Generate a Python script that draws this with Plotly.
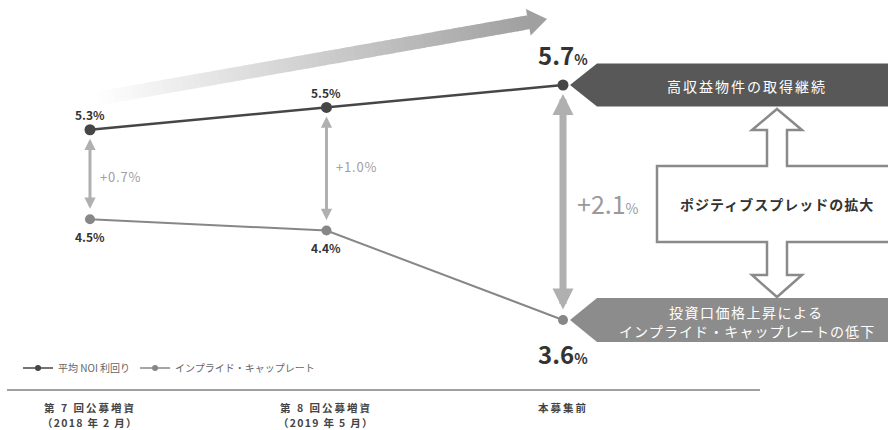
import math
import plotly.graph_objects as go

W, H = 888, 430
FONT = "Noto Sans CJK JP"

# ---- data -------------------------------------------------------------
period_names = ["第 7 回公募増資", "第 8 回公募増資", "本募集前"]
period_dates = ["（2018 年 2 月）", "（2019 年 5 月）", ""]
noi_yield = [5.3, 5.5, 5.7]          # 平均NOI利回り (%)
implied_cap = [4.5, 4.4, 3.6]        # インプライド・キャップレート (%)
spread_labels = ["+0.7", "+1.0", "+2.1"]
series_names = ["平均 NOI 利回り", "インプライド・キャップレート"]
top_banner_text = "高収益物件の取得継続"
mid_box_text = "ポジティブスプレッドの拡大"
bottom_banner_lines = ["投資口価格上昇による", "インプライド・キャップレートの低下"]

x_pos = list(range(len(period_names)))

# axis ranges (full-canvas plot area, axes hidden)
X_RANGE = [-0.3805, 3.3742]
Y_RANGE = [2.6170, 6.4596]

NOI_COLOR = "#464646"
CAP_COLOR = "#878787"
SPREAD_COLOR = "#b0b0b0"


def px(x):
    return x / W


def py(y):
    return 1 - y / H


def poly(points):
    return "M " + " L ".join(f"{px(x):.5f},{py(y):.5f}" for x, y in points) + " Z"


def spaced(text, spacing):
    return f"<span style='letter-spacing:{spacing}px'>{text}</span>"


def paper_text(text, x, y, size, color, weight="normal", spacing=0):
    return dict(text=spaced(text, spacing), x=px(x), y=py(y), xref="paper", yref="paper",
                xanchor="center", yanchor="middle", showarrow=False,
                font=dict(family=FONT, size=size, color=color, weight=weight))


fig = go.Figure()

# ---- series lines -----------------------------------------------------
fig.add_trace(go.Scatter(
    x=x_pos, y=noi_yield, mode="lines+markers", showlegend=False,
    line=dict(color=NOI_COLOR, width=2.6),
    marker=dict(color=NOI_COLOR, size=11),
    hoverinfo="skip",
))
fig.add_trace(go.Scatter(
    x=x_pos, y=implied_cap, mode="lines+markers", showlegend=False,
    line=dict(color=CAP_COLOR, width=2),
    marker=dict(color=CAP_COLOR, size=10),
    hoverinfo="skip",
))
# legend entries with small markers
fig.add_trace(go.Scatter(
    x=[None], y=[None], mode="lines+markers", name=series_names[0],
    line=dict(color=NOI_COLOR, width=1.5), marker=dict(color=NOI_COLOR, size=6),
))
fig.add_trace(go.Scatter(
    x=[None], y=[None], mode="lines+markers", name=series_names[1],
    line=dict(color=CAP_COLOR, width=1.5), marker=dict(color=CAP_COLOR, size=6),
))

# ---- big gradient trend arrow -----------------------------------------
tail, tip = (95, 99), (547, 19)
dx, dy = tip[0] - tail[0], tip[1] - tail[1]
L = math.hypot(dx, dy)
ux, uy = dx / L, dy / L
nx, ny = -uy, ux
head_len, shaft_hw, head_hw = 19, 7, 13.5
shaft_len = L - head_len
N = 70
shapes = []
for k in range(N):
    s0 = shaft_len * k / N
    s1 = min(shaft_len * (k + 1) / N + 0.8, shaft_len + 0.5)
    t = (k + 0.5) / N
    c = int(round(255 - (255 - 160) * t))
    p0 = (tail[0] + ux * s0, tail[1] + uy * s0)
    p1 = (tail[0] + ux * s1, tail[1] + uy * s1)
    pts = [
        (p0[0] + nx * shaft_hw, p0[1] + ny * shaft_hw),
        (p1[0] + nx * shaft_hw, p1[1] + ny * shaft_hw),
        (p1[0] - nx * shaft_hw, p1[1] - ny * shaft_hw),
        (p0[0] - nx * shaft_hw, p0[1] - ny * shaft_hw),
    ]
    shapes.append(dict(type="path", xref="paper", yref="paper", path=poly(pts),
                       fillcolor=f"rgb({c},{c},{c})", line=dict(width=0), layer="below"))
base = (tail[0] + ux * shaft_len, tail[1] + uy * shaft_len)
shapes.append(dict(type="path", xref="paper", yref="paper", layer="below",
                   path=poly([(base[0] + nx * head_hw, base[1] + ny * head_hw),
                              tip,
                              (base[0] - nx * head_hw, base[1] - ny * head_hw)]),
                   fillcolor="rgb(160,160,160)", line=dict(width=0)))

# ---- right-hand explanation panel -------------------------------------
shapes.append(dict(type="path", xref="paper", yref="paper",
                   path=poly([(570, 85), (597, 63.5), (895, 63.5), (895, 106.5), (597, 106.5)]),
                   fillcolor="#585858", line=dict(width=0)))
shapes.append(dict(type="path", xref="paper", yref="paper",
                   path=poly([(570, 320), (597, 298), (895, 298), (895, 342), (597, 342)]),
                   fillcolor="#8c8c8c", line=dict(width=0)))
shapes.append(dict(type="path", xref="paper", yref="paper",
                   path=poly([(777, 109), (802, 130), (787, 130), (787, 166), (895, 166),
                              (895, 242), (787, 242), (787, 275), (802, 275), (777, 297),
                              (752, 275), (767, 275), (767, 242), (657, 242), (657, 166),
                              (767, 166), (767, 130), (752, 130)]),
                   fillcolor="white", line=dict(color="#8a8a8a", width=2.5)))
# baseline under the chart
shapes.append(dict(type="line", xref="paper", yref="paper",
                   x0=px(7), x1=px(760), y0=py(390), y1=py(390),
                   line=dict(color="#a0a0a0", width=2)))

annotations = [
    paper_text(top_banner_text, 747, 86, 14, "white", spacing=2),
    paper_text(mid_box_text, 777, 204, 14, "#333333", "bold", spacing=1),
    paper_text(bottom_banner_lines[0], 746, 312, 14, "white", spacing=1.5),
    paper_text(bottom_banner_lines[1], 747, 331, 14, "white", spacing=1.1),
]

# ---- spread arrows and labels -----------------------------------------
last = len(x_pos) - 1
for i in x_pos:
    big = i == last
    annotations.append(dict(
        x=i, y=noi_yield[i], ax=i, ay=implied_cap[i],
        xref="x", yref="y", axref="x", ayref="y", text="",
        showarrow=True, arrowhead=2, arrowside="end+start",
        arrowwidth=7 if big else 3, arrowsize=0.6 if big else 0.75,
        arrowcolor=SPREAD_COLOR, standoff=9, startstandoff=9,
    ))
    mid = (noi_yield[i] + implied_cap[i]) / 2
    if big:
        txt = f"{spread_labels[i]}<span style='font-size:14px'>%</span>"
        annotations.append(dict(x=i, y=mid, xref="x", yref="y", text=txt,
                                xanchor="left", yanchor="middle", xshift=12, showarrow=False,
                                font=dict(family=FONT, size=25, color="#9a9a9a")))
    else:
        annotations.append(dict(x=i, y=mid, xref="x", yref="y",
                                text=spaced(spread_labels[i] + "%", 0.8),
                                xanchor="left", yanchor="middle", xshift=8,
                                yshift=-2 if i == 0 else 2, showarrow=False,
                                font=dict(family=FONT, size=13, color="#a0a0a0")))

# ---- value labels -----------------------------------------------------
for i in x_pos:
    big = i == last
    if big:
        for v, shift in ((noi_yield[i], 31), (implied_cap[i], -33)):
            annotations.append(dict(
                x=i, y=v, xref="x", yref="y", showarrow=False, yshift=shift,
                text=f"{v:.1f}<span style='font-size:14px'>%</span>",
                font=dict(family=FONT, size=24, color="#333333", weight=600)))
    else:
        for v, shift in ((noi_yield[i], 15), (implied_cap[i], -17)):
            annotations.append(dict(
                x=i, y=v, xref="x", yref="y", showarrow=False, yshift=shift,
                text=f"{v:.1f}%",
                font=dict(family=FONT, size=12, color="#333333", weight="bold")))

# ---- category labels --------------------------------------------------
for i, name, date in zip(x_pos, period_names, period_dates):
    for txt, y, sp in ((name, 407, 2.0), (date, 422, 1.3)):
        if txt:
            annotations.append(dict(
                x=i, y=py(y), xref="x", yref="paper", yanchor="middle", showarrow=False,
                text=spaced(txt, sp), borderpad=0,
                font=dict(family=FONT, size=10.5, color="#444444", weight="bold")))

fig.update_layout(
    width=W, height=H, autosize=False,
    margin=dict(l=0, r=0, t=0, b=0),
    paper_bgcolor="white", plot_bgcolor="white",
    xaxis=dict(range=X_RANGE, visible=False, fixedrange=True),
    yaxis=dict(range=Y_RANGE, visible=False, fixedrange=True),
    shapes=shapes,
    annotations=annotations,
    showlegend=True,
    legend=dict(orientation="h", x=px(18), y=py(368), xanchor="left", yanchor="middle",
                font=dict(family=FONT, size=10, color="#666666"),
                bgcolor="rgba(0,0,0,0)", itemwidth=30),
    font=dict(family=FONT),
)

fig.write_html("out.html")
